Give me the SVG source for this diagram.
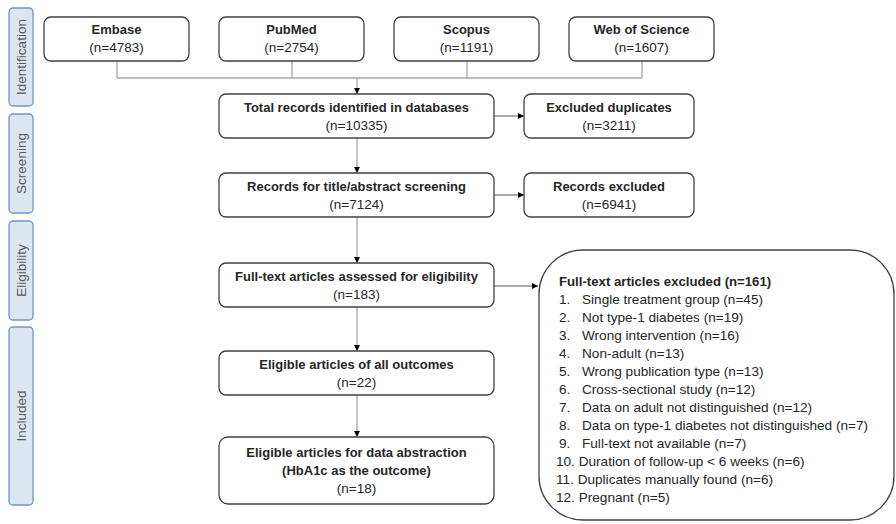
<svg xmlns="http://www.w3.org/2000/svg" width="896" height="524" viewBox="0 0 896 524">
<style>
.stage rect{fill:#dce6f2;stroke:#6f95c8;stroke-width:1.3}
.stage text{font-family:"Liberation Sans",Arial,sans-serif;font-size:13.5px;fill:#595959;text-anchor:middle}
.box{fill:#fff;stroke:#404040;stroke-width:1.3}
.t{font-family:"Liberation Sans",Arial,sans-serif;font-size:13.5px;fill:#262626;text-anchor:middle}
.t.b{font-size:13px;font-weight:bold}
.l{font-family:"Liberation Sans",Arial,sans-serif;font-size:13.6px;fill:#262626}
.l.b{font-size:13.2px;font-weight:bold}
.cg{fill:none;stroke:#a6a6a6;stroke-width:1.3}
.cd{fill:none;stroke:#595959;stroke-width:1}
</style>
<defs>
<marker id="ah" viewBox="0 0 6 6" refX="6" refY="3" markerWidth="6" markerHeight="6" markerUnits="userSpaceOnUse" orient="auto">
<path d="M0,0 L6,3 L0,6 z" fill="#000"/>
</marker>
</defs>
<g id="stage-identification" class="stage"><rect x="9" y="8" width="24" height="98" rx="4"/><text transform="translate(25.5,57) rotate(-90)">Identification</text></g>
<g id="stage-screening" class="stage"><rect x="9" y="114" width="24" height="99" rx="4"/><text transform="translate(25.5,163.5) rotate(-90)">Screening</text></g>
<g id="stage-eligibility" class="stage"><rect x="9" y="221" width="24" height="99" rx="4"/><text transform="translate(25.5,270.5) rotate(-90)">Eligibility</text></g>
<g id="stage-included" class="stage"><rect x="9" y="327" width="24" height="178" rx="4"/><text transform="translate(25.5,416) rotate(-90)">Included</text></g>

<g id="connectors">
<path class="cg" d="M117,61 V78 M292,61 V78 M467,61 V78 M642,61 V78 M117,78 H642"/>
<path class="cg" d="M357,78 V94" marker-end="url(#ah)"/>
<path class="cg" d="M357,138 V173" marker-end="url(#ah)"/>
<path class="cg" d="M357,217 V263" marker-end="url(#ah)"/>
<path class="cg" d="M357,307 V351" marker-end="url(#ah)"/>
<path class="cg" d="M357,395 V437" marker-end="url(#ah)"/>
<path class="cd" d="M494,116 H524" marker-end="url(#ah)"/>
<path class="cd" d="M494,195 H524" marker-end="url(#ah)"/>
<path class="cd" d="M494,286 H538" marker-end="url(#ah)"/>
</g>

<g id="embase"><rect class="box" x="44" y="17" width="145" height="44" rx="7"/><text class="t b" x="116.5" y="34">Embase</text><text class="t" x="116.5" y="52">(n=4783)</text></g>
<g id="pubmed"><rect class="box" x="219" y="17" width="145" height="44" rx="7"/><text class="t b" x="291.5" y="34">PubMed</text><text class="t" x="291.5" y="52">(n=2754)</text></g>
<g id="scopus"><rect class="box" x="394" y="17" width="145" height="44" rx="7"/><text class="t b" x="466.5" y="34">Scopus</text><text class="t" x="466.5" y="52">(n=1191)</text></g>
<g id="wos"><rect class="box" x="569" y="17" width="145" height="44" rx="7"/><text class="t b" x="641.5" y="34">Web of Science</text><text class="t" x="641.5" y="52">(n=1607)</text></g>

<g id="total"><rect class="box" x="219" y="94" width="275" height="44" rx="7"/><text class="t b" x="356.5" y="112">Total records identified in databases</text><text class="t" x="356.5" y="130">(n=10335)</text></g>
<g id="duplicates"><rect class="box" x="524" y="94" width="170" height="44" rx="7"/><text class="t b" x="609" y="112">Excluded duplicates</text><text class="t" x="609" y="130">(n=3211)</text></g>

<g id="screening"><rect class="box" x="219" y="173" width="275" height="44" rx="7"/><text class="t b" x="356.5" y="191">Records for title/abstract screening</text><text class="t" x="356.5" y="209">(n=7124)</text></g>
<g id="records-excluded"><rect class="box" x="524" y="173" width="170" height="44" rx="7"/><text class="t b" x="609" y="191">Records excluded</text><text class="t" x="609" y="209">(n=6941)</text></g>

<g id="fulltext"><rect class="box" x="219" y="263" width="275" height="44" rx="7"/><text class="t b" x="356.5" y="281">Full-text articles assessed for eligibility</text><text class="t" x="356.5" y="299">(n=183)</text></g>

<g id="excluded-list"><rect class="box" x="539" y="250" width="355" height="270" rx="44"/>
<text class="l b" x="559" y="286">Full-text articles excluded (n=161)</text>
<text class="l" x="559" y="304">1.</text><text class="l" x="582" y="304">Single treatment group (n=45)</text>
<text class="l" x="559" y="322">2.</text><text class="l" x="582" y="322">Not type-1 diabetes (n=19)</text>
<text class="l" x="559" y="340">3.</text><text class="l" x="582" y="340">Wrong intervention (n=16)</text>
<text class="l" x="559" y="358">4.</text><text class="l" x="582" y="358">Non-adult (n=13)</text>
<text class="l" x="559" y="376">5.</text><text class="l" x="582" y="376">Wrong publication type (n=13)</text>
<text class="l" x="559" y="394">6.</text><text class="l" x="582" y="394">Cross-sectional study (n=12)</text>
<text class="l" x="559" y="412">7.</text><text class="l" x="582" y="412">Data on adult not distinguished (n=12)</text>
<text class="l" x="559" y="430">8.</text><text class="l" x="582" y="430">Data on type-1 diabetes not distinguished (n=7)</text>
<text class="l" x="559" y="448">9.</text><text class="l" x="582" y="448">Full-text not available (n=7)</text>
<text class="l" x="556" y="466">10. Duration of follow-up &lt; 6 weeks (n=6)</text>
<text class="l" x="556" y="484">11. Duplicates manually found (n=6)</text>
<text class="l" x="556" y="502">12. Pregnant (n=5)</text>
</g>

<g id="eligible-all"><rect class="box" x="219" y="351" width="275" height="44" rx="7"/><text class="t b" x="356.5" y="369">Eligible articles of all outcomes</text><text class="t" x="356.5" y="387">(n=22)</text></g>
<g id="eligible-hba1c"><rect class="box" x="219" y="437" width="275" height="67" rx="9"/><text class="t b" x="356.5" y="457">Eligible articles for data abstraction</text><text class="t b" x="356.5" y="475">(HbA1c as the outcome)</text><text class="t" x="356.5" y="493">(n=18)</text></g>
</svg>
